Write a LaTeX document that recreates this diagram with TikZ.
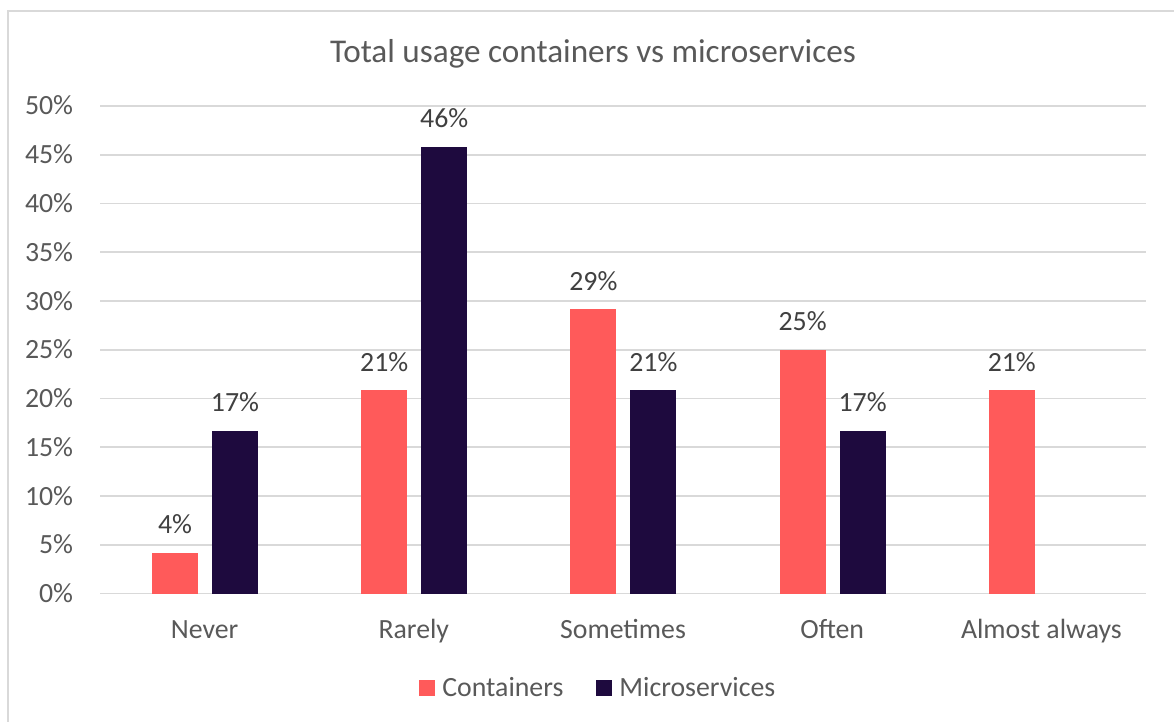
\documentclass[tikz,border=0pt]{standalone}
\usepackage{fontspec}
\setmainfont{Carlito}
\usetikzlibrary{positioning}

\definecolor{contcol}{RGB}{255,90,90}
\definecolor{microcol}{RGB}{30,10,62}
\definecolor{gridcol}{RGB}{217,217,217}
\definecolor{axiscol}{RGB}{89,89,89}
\definecolor{valcol}{RGB}{64,64,64}

\begin{document}
\begin{tikzpicture}[x=0.5pt, y=-0.5pt,
grid line/.style={draw=gridcol, line width=0.8pt},
axis label/.style={font=\fontsize{13.9}{16}\selectfont, text=axiscol, inner sep=0pt},
value label/.style={font=\fontsize{13.9}{16}\selectfont, text=valcol, inner sep=0pt, anchor=base},
legend box/.style={minimum size=8pt, inner sep=0pt, anchor=north west}]

\useasboundingbox (0,0) rectangle (1174,722);
\fill[white] (0,0) rectangle (1174,722);
\draw[grid line] (8,722) -- (8,11) -- (1174,11);

% title
\node[font=\fontsize{16.6}{19}\selectfont, text=axiscol, inner sep=0pt, anchor=base] (title) at (593,63) {Total usage containers vs microservices};

% grid and y axis
\foreach \p in {0,...,10} {
\draw[grid line] (100,593.5-48.75*\p) -- (1146,593.5-48.75*\p);
\pgfmathtruncatemacro\pct{5*\p}
\node[axis label, anchor=base east] (y\p) at (73.5,593.5-48.75*\p+9) {\pct\%};
}

% categories
\foreach \i/\cat in {0/Never, 1/Rarely, 2/Sometimes, 3/Often, 4/Almost always}
\node[axis label, anchor=base] (cat\i) at (204.6+209.2*\i,258+380) {\cat};

% containers
\foreach \i/\v/\t in {0/4.1667/4, 1/20.833/21, 2/29.167/29, 3/25/25, 4/20.833/21} {
\fill[contcol] (152+209.2*\i,593.5) rectangle (198+209.2*\i,593.5-9.75*\v);
\node[value label] (c\i) at (175+209.2*\i,593.5-9.75*\v-19) {\t\%};
}

% microservices
\foreach \i/\v/\t in {0/16.667/17, 1/45.833/46, 2/20.833/21, 3/16.667/17} {
\fill[microcol] (212+209.2*\i,593.5) rectangle (258+209.2*\i,593.5-9.75*\v);
\node[value label] (m\i) at (235+209.2*\i,593.5-9.75*\v-19) {\t\%};
}

% legend
\node[legend box, fill=contcol] (lc) at (419,680) {};
\node[axis label, anchor=base west] (lct) at (442,696) {Containers};
\node[legend box, fill=microcol] (lm) at (596,680) {};
\node[axis label, anchor=base west] (lmt) at (619,696) {Microservices};
\end{tikzpicture}
\end{document}
